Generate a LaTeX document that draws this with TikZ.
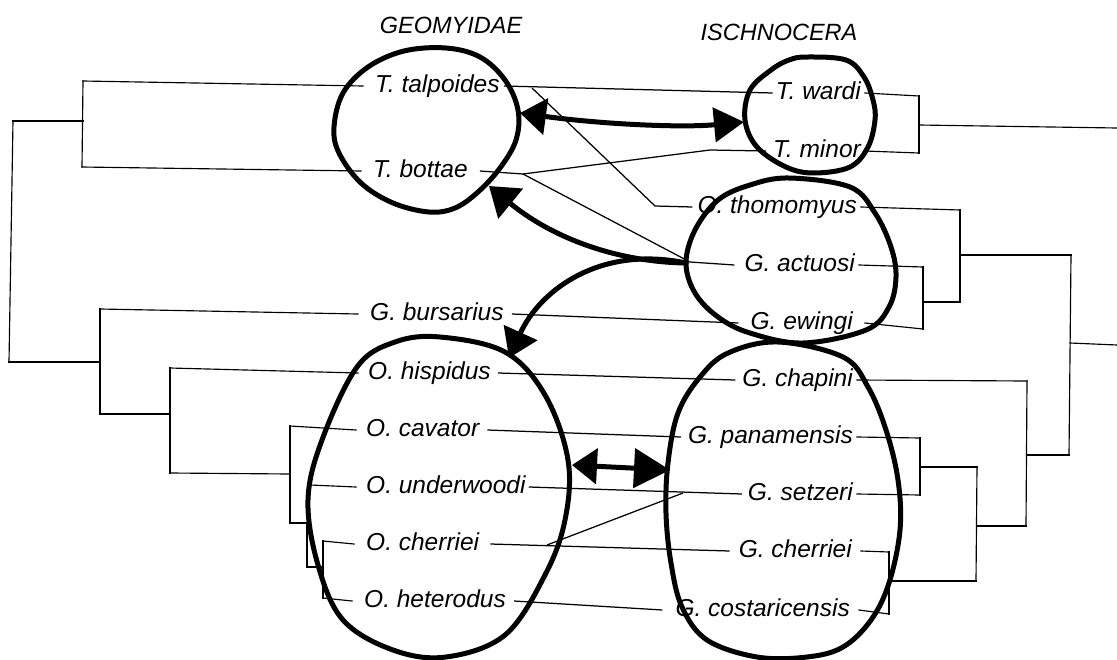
\documentclass[tikz,border=0pt]{standalone}
\usepackage{fontspec}
\setmainfont{Liberation Sans}
\usetikzlibrary{arrows.meta}
\begin{document}
\begin{tikzpicture}[x=1pt,y=-1pt,
  taxon/.style={font=\fontsize{24.5}{25}\selectfont\itshape,inner sep=0pt,text height=17pt,text depth=5pt},
  lt/.style={taxon,anchor=west},
  rt/.style={taxon,anchor=east},
  title/.style={font=\fontsize{23.5}{24}\selectfont\itshape,inner sep=0pt},
  cladeline/.style={line width=1.15pt,line cap=rect},
  hostlink/.style={line width=1.25pt,line join=round},
  penline/.style={line width=5pt,line cap=round,line join=round}]
\fill[white] (0,0) rectangle (1117,659);
\useasboundingbox (0,0) rectangle (1117,659);

% group titles
\node[title] (hdG) at (451,25) {GEOMYIDAE};
\node[title] (hdI) at (779,32) {ISCHNOCERA};

% host taxa
\node[lt] (tt)  at (375,86)  {T. talpoides};
\node[lt] (tb)  at (373,171) {T. bottae};
\node[lt] (gb)  at (370,314) {G. bursarius};
\node[lt] (oh)  at (368,373) {O. hispidus};
\node[lt] (oc)  at (366,430) {O. cavator};
\node[lt] (ou)  at (366,487) {O. underwoodi};
\node[lt] (ocr) at (366,544) {O. cherriei};
\node[lt] (ohe) at (364,601) {O. heterodus};

% louse taxa
\node[rt] (tw)  at (861,93)  {T. wardi};
\node[rt] (tm)  at (861,151) {T. minor};
\node[rt] (ot)  at (857,207) {O. thomomyus};
\node[rt] (ga)  at (855,265) {G. actuosi};
\node[rt] (ge)  at (853,323) {G. ewingi};
\node[rt] (gch) at (853,380) {G. chapini};
\node[rt] (gp)  at (853,437) {G. panamensis};
\node[rt] (gs)  at (853,494) {G. setzeri};
\node[rt] (gcr) at (852,551) {G. cherriei};
\node[rt] (gco) at (850,610) {G. costaricensis};

% host tree
\draw[cladeline] (13,121) -- (9,362);
\draw[cladeline] (13,121) -- (83,121);
\draw[cladeline] (9,362) -- (100,362);
\draw[cladeline] (83,81) -- (82,167);
\draw[cladeline] (83,81) -- ([xshift=-12pt]tt.west);
\draw[cladeline] (82,167) -- ([xshift=-12pt]tb.west);
\draw[cladeline] (100,309) -- (100,414);
\draw[cladeline] (100,309) -- ([xshift=-12pt]gb.west);
\draw[cladeline] (100,414) -- (170,414);
\draw[cladeline] (170,368) -- (170,473);
\draw[cladeline] (170,368) -- ([xshift=-10pt]oh.west);
\draw[cladeline] (170,473) -- (290,474);
\draw[cladeline] (290,426) -- (290,523);
\draw[cladeline] (290,426) -- ([xshift=-10pt]oc.west);
\draw[cladeline] (310,485) -- ([xshift=-10pt]ou.west);
\draw[cladeline] (290,523) -- (307,523) -- (307,567) -- (323,567);
\draw[cladeline] (323,541) -- (323,598);
\draw[cladeline] (323,541) -- ([xshift=-12pt]ocr.west);
\draw[cladeline] (323,598) -- ([xshift=-12pt]ohe.west);

% louse tree
\draw[cladeline] ([xshift=4pt]tw.east) -- (919,96);
\draw[cladeline] ([xshift=4pt]tm.east) -- (919,153);
\draw[cladeline] (919,96) -- (919,153);
\draw[cladeline] (919,125) -- (1117,128);
\draw[cladeline] ([xshift=4pt]ot.east) -- (960,210);
\draw[cladeline] ([xshift=4pt]ga.east) -- (923,267);
\draw[cladeline] ([xshift=12pt]ge.east) -- (923,329);
\draw[cladeline] (923,267) -- (923,329);
\draw[cladeline] (923,302) -- (960,302);
\draw[cladeline] (960,210) -- (960,302);
\draw[cladeline] (960,255) -- (1071,255);
\draw[cladeline] (1071,255) -- (1069,455);
\draw[cladeline] (1070,343) -- (1117,345);
\draw[cladeline] ([xshift=4pt]gch.east) -- (1027,381);
\draw[cladeline] (1027,381) -- (1026,526);
\draw[cladeline] (1027,455) -- (1069,455);
\draw[cladeline] ([xshift=4pt]gp.east) -- (920,438);
\draw[cladeline] ([xshift=4pt]gs.east) -- (920,495);
\draw[cladeline] (920,438) -- (920,495);
\draw[cladeline] (920,467) -- (977,467);
\draw[cladeline] (977,467) -- (976,581);
\draw[cladeline] (977,526) -- (1026,526);
\draw[cladeline] ([xshift=9pt]gcr.east) -- (889,552);
\draw[cladeline] ([xshift=9pt]gco.east) -- (889,614);
\draw[cladeline] (889,552) -- (889,614);
\draw[cladeline] (889,581) -- (976,581);

% host-parasite associations
\coordinate (tta) at (532,88);
\coordinate (tbk) at (523,174);
\coordinate (ocrk) at (547,545);
\coordinate (gsk) at (683,493);
\draw[hostlink] ([xshift=4pt]tt.east) -- ([xshift=-3pt]tw.west);
\draw[hostlink] (tta) -- (655,206) -- ([xshift=-5pt]ot.west);
\draw[hostlink] ([xshift=12pt]tb.east) -- (tbk) -- (710,150) -- ([xshift=-7pt]tm.west);
\draw[hostlink] (tbk) -- (690,262) -- ([xshift=-10pt]ga.west);
\draw[hostlink] ([xshift=8pt]gb.east) -- ([xshift=-12pt]ge.west);
\draw[hostlink] ([xshift=7pt]oh.east) -- ([xshift=-7pt]gch.west);
\draw[hostlink] ([xshift=8pt]oc.east) -- ([xshift=-7pt]gp.west);
\draw[hostlink] ([xshift=3pt]ou.east) -- ([xshift=-6pt]gs.west);
\draw[hostlink] ([xshift=11pt]ocr.east) -- ([xshift=-9pt]gcr.west);
\draw[hostlink] (ocrk) -- (gsk);
\draw[hostlink] ([xshift=8pt]ohe.east) -- ([xshift=-13pt]gco.west);

% hand-drawn groupings
\draw[penline] plot[smooth cycle,tension=0.6] coordinates {(446,48) (480,57) (505,80) (518,110) (516,140) (500,168) (478,192) (455,208) (429,212) (393,203) (361,183) (339,153) (334,127) (343,93) (368,67) (404,51)};
\draw[penline] plot[smooth cycle,tension=0.6] coordinates {(807,57) (846,60) (864,77) (873,100) (875,120) (868,147) (850,167) (814,173) (786,167) (757,147) (745,120) (750,90) (771,70) (789,60)};
\draw[penline] plot[smooth cycle,tension=0.6] coordinates {(789,178) (850,187) (875,213) (891,247) (896,277) (889,307) (866,330) (803,343) (750,333) (718,317) (695,293) (686,263) (695,230) (718,200) (750,185)};
\draw[penline] plot[smooth cycle,tension=0.6] coordinates {(778,342) (843,357) (868,387) (886,430) (898,480) (900,530) (889,583) (871,620) (843,647) (807,657) (757,657) (707,640) (682,607) (671,563) (666,513) (668,463) (678,413) (700,377) (728,353)};
\draw[penline] plot[smooth cycle,tension=0.6] coordinates {(440,337) (505,352) (545,395) (568,460) (565,520) (545,575) (505,635) (446,657) (393,650) (343,620) (318,565) (308,500) (322,440) (357,367) (395,342)};

% arrows between groupings
\coordinate (tR) at (520,113);
\coordinate (wL) at (744,122);
\coordinate (gL) at (686,263);
\coordinate (tB) at (489,186);
\coordinate (hT) at (509,358);
\coordinate (hR) at (572,465);
\coordinate (cL) at (670,470);
\draw[penline,{Triangle[length=26pt,width=36pt]}-{Triangle[length=30pt,width=34pt]}] (tR) .. controls (600,124) and (680,128) .. (wL);
\draw[penline,-{Triangle[length=28pt,width=38pt]}] (gL) .. controls (620,262) and (555,240) .. (tB);
\draw[penline,-{Triangle[length=28pt,width=36pt]}] (gL) .. controls (600,245) and (540,290) .. (hT);
\draw[penline,{Triangle[length=25pt,width=35pt]}-{Triangle[length=36pt,width=39pt]}] (hR) -- (cL);
\end{tikzpicture}
\end{document}
